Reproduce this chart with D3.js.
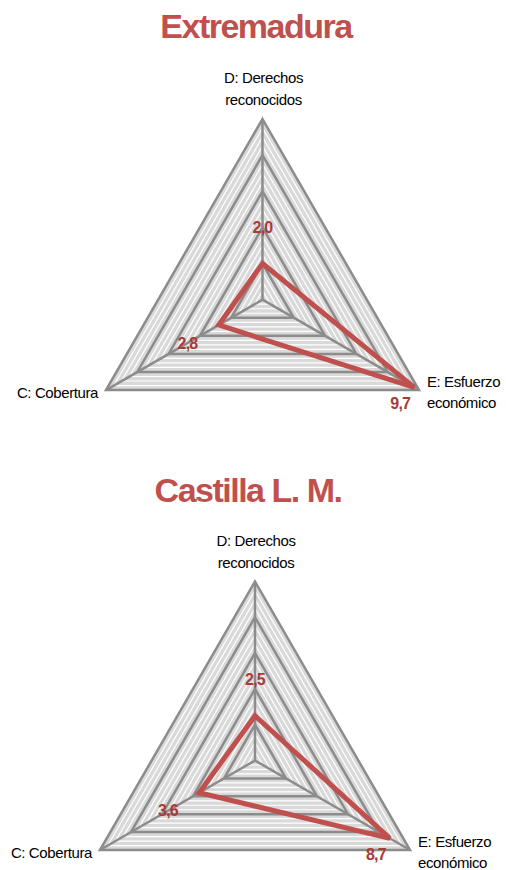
<!DOCTYPE html>
<html>
<head>
<meta charset="utf-8">
<script src="https://cdn.jsdelivr.net/npm/d3@7"></script>
<style>
  body { margin: 0; background: #fff; }
  text { font-family: "Liberation Sans", Arial, sans-serif; }
</style>
</head>
<body>
<script>
// data
var regions = ["Extremadura", "Castilla L. M."];
var categories = ["D", "E", "C"];
var categoryLabels = [["D: Derechos", "reconocidos"], ["E: Esfuerzo", "económico"], ["C: Cobertura"]];
var extremaduraValues = [2.0, 9.7, 2.8];
var castillaValues = [2.5, 8.7, 3.6];
var ringTicks = [2, 4, 6, 8, 10];

var width = 506, height = 870;
var svg = d3.select("body").append("svg").attr("width", width).attr("height", height);

var panels = [
  { name: regions[0], values: extremaduraValues, cx: 262.5, cy: 299.7, r: 180.7, titleX: 256, titleY: 38 },
  { name: regions[1], values: castillaValues, cx: 255, cy: 760.5, r: 179, titleX: 248, titleY: 502 }
];

var angles = [-90, 30, 150].map(function (a) { return a * Math.PI / 180; });
var fmt = function (v) { return d3.format(".1f")(v).replace(".", ","); };

panels.forEach(function (p) {
  var rScale = d3.scaleLinear().domain([0, 10]).range([0, p.r]);
  var g = svg.append("g").attr("transform", "translate(" + p.cx + "," + p.cy + ")");
  var pt = function (v, i) { return [Math.cos(angles[i]) * rScale(v), Math.sin(angles[i]) * rScale(v)]; };
  var tri = function (v) { return d3.line()(categories.map(function (c, i) { return pt(v, i); })) + "Z"; };

  // background
  g.append("path").attr("d", tri(10)).attr("fill", "#d9d9d9");
  // white hatch stripes
  var stripes = d3.range(0.5, 10, 0.5).filter(function (v) { return Math.abs(v / 2 - Math.round(v / 2)) > 0.01; });
  g.selectAll(".stripe").data(stripes).enter().append("path")
    .attr("d", tri).attr("fill", "none").attr("stroke", "#ffffff").attr("stroke-width", 1.2);
  // rings
  g.selectAll(".ring").data(ringTicks).enter().append("path")
    .attr("d", tri).attr("fill", "none").attr("stroke", "#8c8c8c").attr("stroke-width", 2.5)
    .attr("stroke-linejoin", "miter");
  // spokes
  g.selectAll(".spoke").data(categories).enter().append("line")
    .attr("x1", 0).attr("y1", 0)
    .attr("x2", function (c, i) { return pt(10, i)[0]; })
    .attr("y2", function (c, i) { return pt(10, i)[1]; })
    .attr("stroke", "#8c8c8c").attr("stroke-width", 2.5);

  // data
  g.append("path")
    .attr("d", d3.line()(p.values.map(function (v, i) { return pt(v, i); })) + "Z")
    .attr("fill", "none").attr("stroke", "#c0504d").attr("stroke-width", 5)
    .attr("stroke-linejoin", "miter");

  // value labels
  p.values.forEach(function (v, i) {
    var q = pt(v, i), x, y;
    if (i === 1) { x = q[0] - 14; y = q[1] + 16; }
    else { x = q[0] + Math.cos(angles[i]) * 36; y = q[1] + Math.sin(angles[i]) * 36; }
    g.append("text").attr("x", x).attr("y", y).attr("dy", "0.35em")
      .attr("text-anchor", "middle").attr("font-size", 16).attr("font-weight", "bold")
      .attr("letter-spacing", -0.8).attr("fill", "#a83a38").text(fmt(v));
  });

  // axis labels
  var top = pt(10, 0), right = pt(10, 1), left = pt(10, 2);
  var dl = g.append("text").attr("text-anchor", "middle").attr("font-size", 15)
    .attr("letter-spacing", -0.4).attr("fill", "#000");
  categoryLabels[0].forEach(function (s, k) {
    dl.append("tspan").attr("x", top[0] + 1).attr("y", top[1] - 36 + k * 22).text(s);
  });
  var el = g.append("text").attr("text-anchor", "start").attr("font-size", 15)
    .attr("letter-spacing", -0.4).attr("fill", "#000");
  categoryLabels[1].forEach(function (s, k) {
    el.append("tspan").attr("x", right[0] + 8).attr("y", right[1] - 3 + k * 21).text(s);
  });
  g.append("text").attr("x", left[0] - 8).attr("y", left[1] + 8)
    .attr("text-anchor", "end").attr("font-size", 15).attr("letter-spacing", -0.4)
    .attr("fill", "#000").text(categoryLabels[2][0]);

  // title
  svg.append("text").attr("x", p.titleX).attr("y", p.titleY)
    .attr("text-anchor", "middle").attr("font-size", 34).attr("font-weight", "bold")
    .attr("letter-spacing", -1.5).attr("fill", "#c0504d").text(p.name);
});
</script>
</body>
</html>
